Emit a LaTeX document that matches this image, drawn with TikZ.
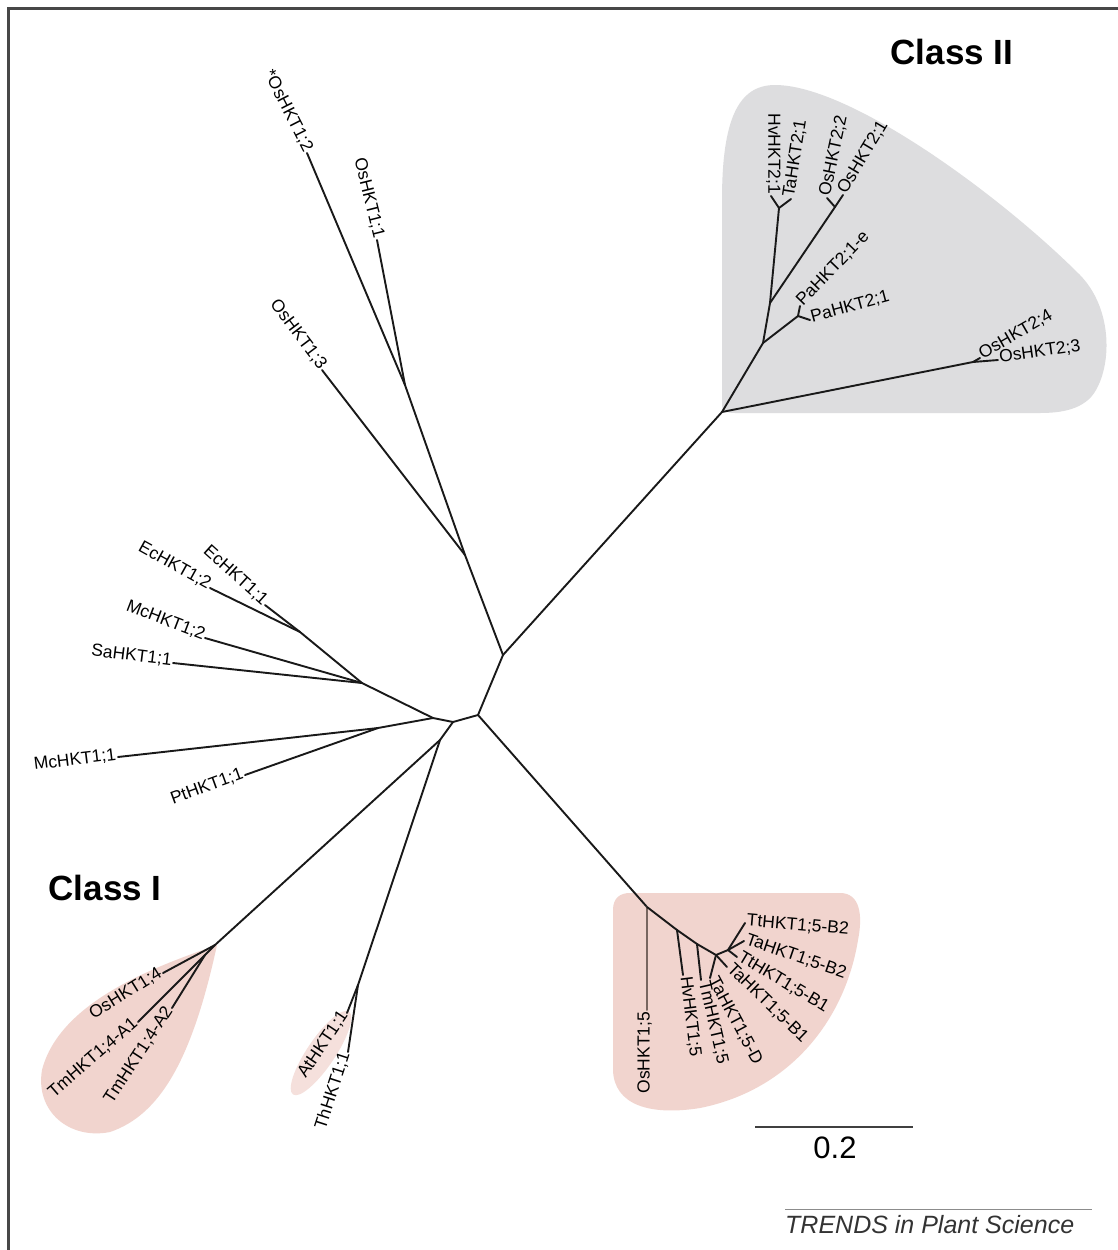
\documentclass[tikz,border=0pt]{standalone}
\usepackage{fontspec}
\setmainfont{Liberation Sans}
\definecolor{shadegray}{RGB}{221,221,223}
\definecolor{shadepink}{RGB}{241,212,206}
\definecolor{shadepinklt}{RGB}{245,224,220}
\definecolor{brownline}{RGB}{120,102,96}
\begin{document}
\begin{tikzpicture}[x=1pt,y=-1pt]
\tikzset{
  br/.style={line width=1.9pt, draw=black!90, line cap=round},
  lbl/.style={font=\fontsize{17.5}{19}\selectfont, inner sep=1.5pt, text=black},
  lE/.style={lbl, anchor=mid east, rotate=#1},
  lW/.style={lbl, anchor=mid west, rotate=#1},
  classlab/.style={font=\fontsize{35}{40}\selectfont\bfseries, inner sep=0pt},
}
\path[use as bounding box] (0,0) rectangle (1118,1250);
\fill[white] (0,0) rectangle (1118,1250);

% ---------- shaded groups ----------
\fill[shadegray] (722,405) -- (722,200) .. controls (722,120) and (738,85) .. (775,85)
  .. controls (850,85) and (1000,195) .. (1080,275) .. controls (1112,308) and (1112,362) .. (1096,390)
  .. controls (1085,410) and (1060,413) .. (1040,413) -- (735,413) .. controls (725,413) and (722,410) .. (722,405) -- cycle;
\fill[shadepink] (630,893) -- (840,893) .. controls (860,893) and (863,915) .. (858,940)
  .. controls (845,1020) and (790,1090) .. (700,1108) .. controls (650,1116) and (614,1105) .. (613,1070)
  -- (613,910) .. controls (613,898) and (620,893) .. (630,893) -- cycle;
\fill[shadepink] (217,945) .. controls (160,965) and (60,1000) .. (42,1070)
  .. controls (35,1112) and (70,1140) .. (110,1132) .. controls (160,1115) and (192,1060) .. (217,945) -- cycle;
\fill[shadepinklt, rotate around={56:(321,1053)}] (321,1053) ellipse [x radius=50, y radius=14];

% ---------- frame ----------
\coordinate (fr1) at (8,1250);
\coordinate (fr2) at (8,8);
\coordinate (fr3) at (1118,8);
\draw[line width=3pt, black!72] (fr1) -- (fr2) -- (fr3);

% ---------- internal nodes ----------
\coordinate (J1) at (503,655);
\coordinate (J2) at (478,715);
\coordinate (J3) at (453,722);
\coordinate (J4) at (433,718);
\coordinate (J5) at (378,728);
\coordinate (J8) at (362,683);
\coordinate (JEc) at (300,632);
\coordinate (J6) at (440,740);
\coordinate (J7) at (358,985);
\coordinate (C4) at (215,945);
\coordinate (JA) at (205,955);
\coordinate (C5) at (647,907);
\coordinate (K1) at (677,930);
\coordinate (K2) at (697,944);
\coordinate (K3) at (716,955);
\coordinate (K4) at (728,950);
\coordinate (C2) at (722,412);
\coordinate (JOs23) at (973,362);
\coordinate (P1) at (763,343);
\coordinate (JPa) at (798,316);
\coordinate (P2) at (770,303);
\coordinate (JHvTa) at (779,208);
\coordinate (JOs21) at (835,207);
\coordinate (JOs13) at (465,555);
\coordinate (JOs12) at (405,385);

% ---------- leaves ----------
\coordinate (Mc11) at (118,757);
\coordinate (Pt11) at (245,775);
\coordinate (Sa11) at (173,663);
\coordinate (Mc12) at (205,638);
\coordinate (Ec12) at (210,588);
\coordinate (Ec11) at (265,605);
\coordinate (At11) at (347,1013);
\coordinate (Th11) at (348,1052);
\coordinate (Os14) at (163,973);
\coordinate (A1) at (138,1022);
\coordinate (A2) at (172,1008);
\coordinate (Os15) at (647,1010);
\coordinate (Hv15) at (683,975);
\coordinate (Tm15) at (701,980);
\coordinate (TaD) at (710,978);
\coordinate (TaB1) at (727,967);
\coordinate (TtB1) at (737,957);
\coordinate (TaB2) at (744,941);
\coordinate (TtB2) at (745,923);
\coordinate (Os24) at (980,358);
\coordinate (Os23) at (998,360);
\coordinate (PaE) at (800,306);
\coordinate (Pa21) at (810,320);
\coordinate (Hv21) at (771,196);
\coordinate (Ta21) at (791,199);
\coordinate (Os22) at (827,198);
\coordinate (Os21) at (843,195);
\coordinate (Os12) at (307,153);
\coordinate (Os11) at (377,240);
\coordinate (Os13) at (322,370);

% ---------- branches ----------
\draw[br] (J1) -- (C2);
\draw[br] (J1) -- (JOs13);
\draw[br] (JOs13) -- (JOs12);
\draw[br] (JOs12) -- (Os12);
\draw[br] (JOs12) -- (Os11);
\draw[br] (JOs13) -- (Os13);
\draw[br] (J1) -- (J2);
\draw[br] (J2) -- (J3);
\draw[br] (J3) -- (J4);
\draw[br] (J4) -- (J8);
\draw[br] (J8) -- (JEc);
\draw[br] (JEc) -- (Ec12);
\draw[br] (JEc) -- (Ec11);
\draw[br] (J8) -- (Mc12);
\draw[br] (J8) -- (Sa11);
\draw[br] (J4) -- (J5);
\draw[br] (J5) -- (Mc11);
\draw[br] (J5) -- (Pt11);
\draw[br] (J3) -- (J6);
\draw[br] (J6) -- (C4);
\draw[br] (C4) -- (Os14);
\draw[br] (C4) -- (JA);
\draw[br] (JA) -- (A1);
\draw[br] (JA) -- (A2);
\draw[br] (J6) -- (J7);
\draw[br] (J7) -- (At11);
\draw[br] (J7) -- (Th11);
\draw[br] (J2) -- (C5);
\draw[br, draw=brownline] (C5) -- (Os15);
\draw[br] (C5) -- (K1);
\draw[br] (K1) -- (Hv15);
\draw[br] (K1) -- (K2);
\draw[br] (K2) -- (Tm15);
\draw[br] (K2) -- (K3);
\draw[br] (K3) -- (TaD);
\draw[br] (K3) -- (TaB1);
\draw[br] (K3) -- (K4);
\draw[br] (K4) -- (TtB1);
\draw[br] (K4) -- (TaB2);
\draw[br] (K4) -- (TtB2);
\draw[br] (C2) -- (JOs23);
\draw[br] (JOs23) -- (Os24);
\draw[br] (JOs23) -- (Os23);
\draw[br] (C2) -- (P1);
\draw[br] (P1) -- (JPa);
\draw[br] (JPa) -- (PaE);
\draw[br] (JPa) -- (Pa21);
\draw[br] (P1) -- (P2);
\draw[br] (P2) -- (JHvTa);
\draw[br] (JHvTa) -- (Hv21);
\draw[br] (JHvTa) -- (Ta21);
\draw[br] (P2) -- (JOs21);
\draw[br] (JOs21) -- (Os22);
\draw[br] (JOs21) -- (Os21);

% ---------- labels ----------
\node (lMc11) [lE=7] at (Mc11) {McHKT1;1};
\node (lPt11) [lE=20] at (Pt11) {PtHKT1;1};
\node (lSa11) [lE=-7] at (Sa11) {SaHKT1;1};
\node (lMc12) [lE=-21] at (Mc12) {McHKT1;2};
\node (lEc12) [lE=-29] at (Ec12) {EcHKT1;2};
\node (lEc11) [lE=-42] at (Ec11) {EcHKT1;1};
\node (lAt11) [lE=56] at (At11) {AtHKT1;1};
\node (lTh11) [lE=72] at (Th11) {ThHKT1;1};
\node (lOs14) [lE=32] at (Os14) {OsHKT1;4};
\node (lA1) [lE=41] at (A1) {TmHKT1;4-A1};
\node (lA2) [lE=57] at (A2) {TmHKT1;4-A2};
\node (lOs15) [lE=90] at (Os15) {OsHKT1;5};
\node (lHv15) [lW=-83] at (Hv15) {HvHKT1;5};
\node (lTm15) [lW=-77] at (Tm15) {TmHKT1;5};
\node (lTaD) [lW=-62] at (TaD) {TaHKT1;5-D};
\node (lTaB1) [lW=-44] at (TaB1) {TaHKT1;5-B1};
\node (lTtB1) [lW=-31] at (TtB1) {TtHKT1;5-B1};
\node (lTaB2) [lW=-19] at (TaB2) {TaHKT1;5-B2};
\node (lTtB2) [lW=-5] at (TtB2) {TtHKT1;5-B2};
\node (lOs24) [lW=30] at (Os24) {OsHKT2;4};
\node (lOs23) [lW=8] at (Os23) {OsHKT2;3};
\node (lPaE) [lW=46] at (PaE) {PaHKT2;1-e};
\node (lPa21) [lW=15] at (Pa21) {PaHKT2;1};
\node (lHv21) [lE=-90] at (Hv21) {HvHKT2;1};
\node (lTa21) [lW=81] at (Ta21) {TaHKT2;1};
\node (lOs22) [lW=78] at (Os22) {OsHKT2;2};
\node (lOs21) [lW=59] at (Os21) {OsHKT2;1};
\node (lOs12) [lE=-63] at (Os12) {*OsHKT1;2};
\node (lOs11) [lE=-76] at (Os11) {OsHKT1;1};
\node (lOs13) [lE=-53] at (Os13) {OsHKT1;3};

% ---------- class labels ----------
\node (classII) [classlab] at (952,52) {Class II};
\node (classI) [classlab] at (105,888) {Class I};

% ---------- scale bar ----------
\coordinate (sb1) at (755,1127);
\coordinate (sb2) at (913,1127);
\draw[line width=2.5pt, black!75] (sb1) -- (sb2);
\node (sblab) [font=\fontsize{31}{34}\selectfont, inner sep=0pt] at (835,1148) {0.2};

% ---------- journal credit ----------
\coordinate (tl1) at (785,1209);
\coordinate (tl2) at (1092,1209);
\draw[line width=1pt, black!45] (tl1) -- (tl2);
\node (credit) [anchor=base west, inner sep=0pt, font=\fontsize{25}{28}\selectfont\itshape, text=black!80] at (785,1233) {TRENDS in Plant Science};
\end{tikzpicture}
\end{document}
